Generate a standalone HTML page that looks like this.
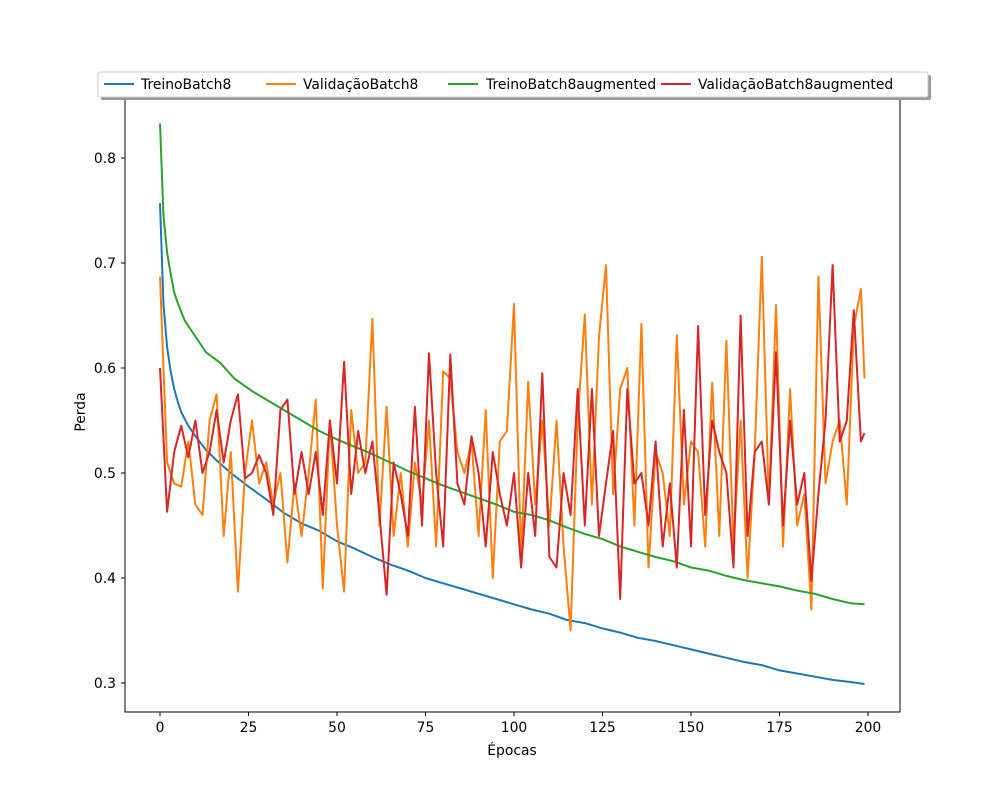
<!DOCTYPE html>
<html><head><meta charset="utf-8">
<style>
body{margin:0;background:#fff;}
svg{display:block;font-family:"DejaVu Sans","Liberation Sans",sans-serif;}
</style></head>
<body>
<svg id="chart" width="1000" height="800" viewBox="0 0 1000 800">
<rect x="0" y="0" width="1000" height="800" fill="#fff"/>
<g id="marks"></g>
<rect x="125" y="88" width="775" height="624" fill="none" stroke="#000" stroke-width="1"/>
<g id="axes"></g>
<text x="512" y="755" font-size="13.9" text-anchor="middle">Épocas</text>
<text x="85" y="412" font-size="13.9" text-anchor="middle" transform="rotate(-90 85 412)">Perda</text>
<g>
<rect x="101" y="75" width="830" height="25" fill="#999" rx="2"/>
<rect x="98" y="72" width="830" height="25" fill="#fff" stroke="#ccc" rx="2"/>
<g><line x1="104" y1="84" x2="134" y2="84" stroke="#1f77b4" stroke-width="2"/><text x="141" y="89" font-size="13.9">TreinoBatch8</text></g>
<g><line x1="266" y1="84" x2="296" y2="84" stroke="#ff7f0e" stroke-width="2"/><text x="303" y="89" font-size="13.9">ValidaçãoBatch8</text></g>
<g><line x1="448" y1="84" x2="478" y2="84" stroke="#2ca02c" stroke-width="2"/><text x="486" y="89" font-size="13.9">TreinoBatch8augmented</text></g>
<g><line x1="661" y1="84" x2="691" y2="84" stroke="#d62728" stroke-width="2"/><text x="698" y="89" font-size="13.9">ValidaçãoBatch8augmented</text></g>
</g>
</svg>
<script>
const xTicks=[0,25,50,75,100,125,150,175,200];
const yTicks=[0.3,0.4,0.5,0.6,0.7,0.8];
const yTickLabels=["0.3","0.4","0.5","0.6","0.7","0.8"];
const blueEpochs=[0,1,2,3,4,5,6,8,10,13,16,20,25,30,35,40,45,50,55,60,65,70,75,80,85,90,95,100,105,110,115,120,125,130,135,140,145,150,155,160,165,170,175,180,185,190,195,199];
const blueVals=[0.757,0.66,0.62,0.597,0.58,0.568,0.558,0.545,0.535,0.522,0.512,0.5,0.487,0.475,0.462,0.452,0.445,0.435,0.428,0.42,0.413,0.407,0.4,0.395,0.39,0.385,0.38,0.375,0.37,0.366,0.36,0.357,0.352,0.348,0.343,0.34,0.336,0.332,0.328,0.324,0.32,0.317,0.312,0.309,0.306,0.303,0.301,0.299];
const greenEpochs=[0,1,2,3,4,5,7,10,13,17,21,26,30,35,40,45,50,55,60,65,70,75,80,85,90,95,100,105,110,115,120,125,130,135,140,145,150,155,160,165,170,175,180,185,190,195,199];
const greenVals=[0.833,0.745,0.71,0.69,0.672,0.662,0.645,0.63,0.615,0.605,0.59,0.578,0.57,0.56,0.55,0.54,0.532,0.525,0.518,0.51,0.502,0.495,0.488,0.482,0.476,0.47,0.463,0.46,0.455,0.448,0.442,0.437,0.43,0.425,0.42,0.416,0.41,0.407,0.402,0.398,0.395,0.392,0.388,0.385,0.38,0.376,0.375];
const orangeVals=[0.687,0.51,0.49,0.487,0.53,0.47,0.46,0.55,0.575,0.44,0.52,
0.387,0.5,0.55,0.49,0.51,0.47,0.5,0.415,0.49,0.44,
0.5,0.57,0.39,0.55,0.45,0.387,0.56,0.5,0.51,0.647,
0.45,0.563,0.44,0.5,0.43,0.51,0.47,0.55,0.43,0.597,
0.59,0.52,0.5,0.53,0.44,0.56,0.4,0.53,0.54,0.661,
0.42,0.587,0.47,0.55,0.45,0.55,0.43,0.35,0.55,0.651,
0.47,0.63,0.698,0.48,0.58,0.6,0.45,0.642,0.41,0.52,
0.5,0.44,0.631,0.47,0.53,0.52,0.43,0.586,0.44,0.626,
0.43,0.55,0.4,0.52,0.706,0.47,0.66,0.43,0.58,0.45,
0.48,0.37,0.687,0.49,0.53,0.55,0.47,0.64,0.675,0.59];
const redVals=[0.6,0.463,0.52,0.545,0.515,0.55,0.5,0.52,0.56,0.51,0.55,
0.575,0.495,0.5,0.517,0.5,0.46,0.56,0.57,0.48,0.52,
0.48,0.52,0.46,0.55,0.49,0.606,0.48,0.54,0.5,0.53,
0.46,0.384,0.51,0.48,0.44,0.563,0.45,0.614,0.5,0.43,
0.613,0.49,0.47,0.535,0.5,0.43,0.52,0.48,0.45,0.5,
0.41,0.5,0.44,0.595,0.42,0.41,0.5,0.46,0.58,0.45,
0.58,0.44,0.49,0.54,0.38,0.58,0.49,0.5,0.45,0.53,
0.43,0.49,0.41,0.56,0.43,0.64,0.46,0.55,0.52,0.5,
0.41,0.65,0.44,0.52,0.53,0.47,0.615,0.45,0.55,0.47,
0.5,0.397,0.48,0.55,0.698,0.53,0.55,0.655,0.53,0.538];
const NS="http://www.w3.org/2000/svg";
const xS=e=>160+e*3.54;
const yS=v=>683-(v-0.3)*1050;
function valEpochs(n){const a=[];for(let i=0;i<n;i++)a.push(i===n-1?199:i*2);return a;}
const marks=document.getElementById('marks');
function line(ep,vals,color,name){
  const p=document.createElementNS(NS,'polyline');
  p.setAttribute('points',ep.map((e,i)=>xS(e).toFixed(1)+','+yS(vals[i]).toFixed(1)).join(' '));
  p.setAttribute('fill','none');p.setAttribute('stroke',color);p.setAttribute('stroke-width','2');
  p.setAttribute('stroke-linejoin','round');
  
  
  marks.appendChild(p);
}
line(blueEpochs,blueVals,'#1f77b4','series-treino-batch8');
line(valEpochs(orangeVals.length),orangeVals,'#ff7f0e','series-validacao-batch8');
line(greenEpochs,greenVals,'#2ca02c','series-treino-batch8-augmented');
line(valEpochs(redVals.length),redVals,'#d62728','series-validacao-batch8-augmented');
const axes=document.getElementById('axes');
xTicks.forEach(t=>{
  const l=document.createElementNS(NS,'line');
  l.setAttribute('x1',xS(t));l.setAttribute('x2',xS(t));l.setAttribute('y1',712);l.setAttribute('y2',716);l.setAttribute('stroke','#000');
  
  
  axes.appendChild(l);
  const tx=document.createElementNS(NS,'text');
  tx.setAttribute('x',xS(t));tx.setAttribute('y',732);tx.setAttribute('font-size','13.9');tx.setAttribute('text-anchor','middle');
  tx.textContent=String(t);
  
  
  axes.appendChild(tx);
});
yTicks.forEach((t,i)=>{
  const l=document.createElementNS(NS,'line');
  l.setAttribute('x1',121);l.setAttribute('x2',125);l.setAttribute('y1',yS(t));l.setAttribute('y2',yS(t));l.setAttribute('stroke','#000');
  
  
  axes.appendChild(l);
  const tx=document.createElementNS(NS,'text');
  tx.setAttribute('x',116);tx.setAttribute('y',yS(t)+5);tx.setAttribute('font-size','13.9');tx.setAttribute('text-anchor','end');
  tx.textContent=yTickLabels[i];
  
  
  axes.appendChild(tx);
});
</script>
</body></html>
